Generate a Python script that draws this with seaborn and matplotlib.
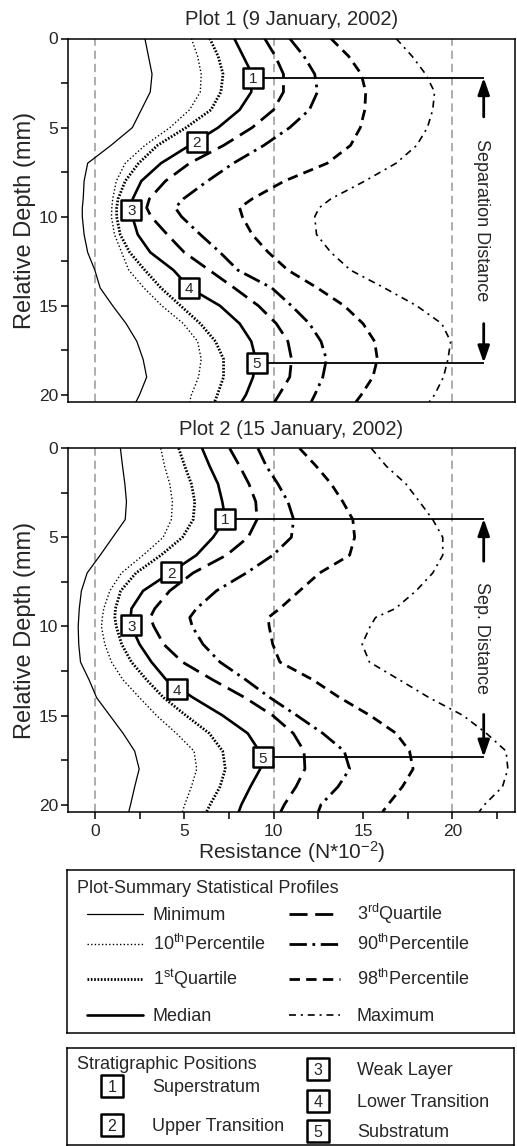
import numpy as np
import pandas as pd
import matplotlib
matplotlib.use('Agg')
import matplotlib.pyplot as plt
from matplotlib.ticker import MultipleLocator
import seaborn as sns

# depth grid (mm) shared by all profiles
depth = [0, 1, 2, 3, 4, 5, 6, 7, 8, 9, 9.5, 10, 11, 12, 13, 14, 15, 16, 17, 18, 19, 20, 20.4]

# Plot 1 (9 January 2002) - resistance (N*10^-2)
p1_min = [2.8, 3.0, 3.2, 3.1, 2.6, 2.1, 0.9, -0.4, -0.6, -0.65, -0.7, -0.7, -0.6, -0.4, 0.0, 0.3, 1.0, 1.75, 2.35, 2.7, 2.9, 2.5, 2.3]
p1_p10 = [5.4, 5.75, 5.95, 5.9, 5.3, 4.2, 2.8, 1.7, 1.2, 1.0, 0.95, 0.93, 1.1, 1.5, 1.9, 2.75, 3.75, 4.95, 5.75, 5.95, 5.8, 5.4, 5.3]
p1_q1 = [6.43, 6.9, 7.17, 7.05, 6.5, 5.1, 3.5, 2.45, 1.7, 1.3, 1.22, 1.22, 1.42, 1.95, 2.8, 3.7, 4.8, 5.9, 6.75, 7.2, 7.2, 6.85, 6.7]
p1_med = [7.8, 8.3, 8.8, 8.75, 8.1, 6.9, 5.3, 3.7, 2.6, 2.12, 2.05, 2.1, 2.4, 3.1, 4.4, 5.3, 7.0, 8.1, 8.75, 9.0, 8.85, 8.45, 8.2]
p1_q3 = [9.5, 10.1, 10.55, 10.55, 10.0, 8.8, 7.2, 5.3, 3.95, 3.05, 2.9, 3.15, 4.05, 5.0, 6.4, 7.8, 9.15, 10.15, 10.8, 11.0, 10.9, 10.3, 10.05]
p1_p90 = [10.9, 11.7, 12.3, 12.45, 12.0, 10.9, 9.45, 7.75, 6.3, 4.95, 4.5, 4.85, 5.9, 7.0, 8.0, 9.9, 11.0, 12.0, 12.65, 12.95, 12.75, 12.3, 12.1]
p1_p98 = [13.2, 14.2, 14.9, 15.15, 15.1, 14.85, 14.3, 13.0, 10.6, 8.8, 8.1, 8.25, 8.8, 9.7, 10.8, 12.45, 13.95, 15.0, 15.65, 15.8, 15.55, 14.9, 14.6]
p1_max = [16.85, 17.75, 18.5, 19.0, 18.9, 18.6, 18.0, 16.85, 15.1, 13.2, 12.55, 12.3, 12.4, 13.2, 14.3, 16.2, 18.0, 19.4, 19.9, 19.75, 19.5, 19.0, 18.7]

# Plot 2 (15 January 2002)
p2_min = [1.43, 1.55, 1.68, 1.77, 1.7, 1.0, 0.3, -0.43, -0.75, -0.87, -0.9, -0.93, -0.9, -0.8, -0.32, 0.1, 0.84, 1.58, 2.23, 2.48, 2.23, 2.0, 1.9]
p2_p10 = [3.69, 3.9, 4.19, 4.34, 4.28, 3.82, 2.7, 1.49, 0.84, 0.5, 0.42, 0.37, 0.56, 0.93, 1.58, 2.5, 3.45, 4.56, 5.55, 5.7, 5.4, 5.03, 4.9]
p2_q1 = [4.69, 5.03, 5.4, 5.59, 5.5, 4.9, 3.7, 2.3, 1.45, 1.15, 1.12, 1.2, 1.5, 2.05, 2.9, 3.85, 5.1, 6.4, 7.15, 7.3, 7.0, 6.45, 6.25]
p2_med = [6.0, 6.42, 6.89, 7.13, 7.3, 6.61, 5.68, 4.2, 2.7, 2.05, 2.0, 2.05, 2.5, 3.17, 4.0, 5.5, 7.15, 8.55, 9.2, 9.25, 8.7, 8.2, 8.05]
p2_q3 = [7.54, 8.1, 8.62, 9.0, 9.07, 8.57, 7.36, 5.49, 4.19, 3.35, 3.1, 3.3, 3.85, 4.9, 6.6, 8.4, 9.95, 11.1, 11.7, 11.75, 11.25, 10.6, 10.4]
p2_p90 = [9.12, 9.59, 10.24, 10.8, 11.12, 10.99, 9.96, 8.47, 6.8, 5.68, 5.31, 5.45, 6.05, 7.0, 8.45, 9.8, 11.3, 12.75, 13.95, 14.25, 13.6, 12.65, 12.5]
p2_p98 = [11.45, 12.38, 13.22, 13.87, 14.43, 14.53, 14.25, 12.57, 11.45, 10.34, 9.7, 9.75, 9.95, 10.35, 12.2, 13.7, 15.4, 16.85, 17.6, 17.8, 17.2, 16.4, 16.1]
p2_max = [15.46, 16.3, 17.4, 18.16, 18.9, 19.46, 19.46, 18.9, 17.97, 16.8, 15.7, 15.4, 14.95, 15.36, 17.04, 18.7, 20.6, 21.9, 23.0, 23.1, 22.8, 21.8, 21.5]

# stratigraphic positions (on the median profile)
pos_labels = ['1', '2', '3', '4', '5']
p1_pos_x = [8.85, 5.7, 2.05, 5.25, 9.05]
p1_pos_d = [2.2, 5.8, 9.6, 14.0, 18.2]
p2_pos_x = [7.3, 4.28, 2.05, 4.6, 9.4]
p2_pos_d = [3.95, 6.95, 9.93, 13.52, 17.33]

titles = ['Plot 1 (9 January, 2002)', 'Plot 2 (15 January, 2002)']
sep_labels = ['Separation Distance', 'Sep. Distance']
arrow_x = 21.75

profiles = ['Minimum', '10th', '1stQ', 'Median', '3rdQ', '90th', '98th', 'Maximum']
legend_labels = ['Minimum', '10$^{th}$Percentile', '1$^{st}$Quartile', 'Median',
                 '3$^{rd}$Quartile', '90$^{th}$Percentile', '98$^{th}$Percentile', 'Maximum']
styles = {
    'Minimum': dict(lw=0.9, ls='-'),
    '10th': dict(lw=1.0, ls=(0, (1, 1.6))),
    '1stQ': dict(lw=2.0, ls=(0, (1.2, 1.2))),
    'Median': dict(lw=1.9, ls='-'),
    '3rdQ': dict(lw=2.0, ls=(0, (13, 5.5))),
    '90th': dict(lw=2.0, ls=(0, (12.5, 4, 2, 4))),
    '98th': dict(lw=2.0, ls=(0, (7.5, 4.5))),
    'Maximum': dict(lw=1.2, ls=(0, (5, 3.5, 1.5, 3.5))),
}

plots = {
    1: [p1_min, p1_p10, p1_q1, p1_med, p1_q3, p1_p90, p1_p98, p1_max],
    2: [p2_min, p2_p10, p2_q1, p2_med, p2_q3, p2_p90, p2_p98, p2_max],
}
rows = []
for plot_no, series in plots.items():
    for name, vals in zip(profiles, series):
        for d, v in zip(depth, vals):
            rows.append((plot_no, name, d, v))
df = pd.DataFrame(rows, columns=['plot', 'profile', 'depth', 'resistance'])

sns.set_style('ticks')
plt.rcParams['font.family'] = ['Liberation Sans', 'DejaVu Sans']
plt.rcParams['mathtext.fontset'] = 'custom'
plt.rcParams['mathtext.rm'] = 'Liberation Sans'
plt.rcParams['mathtext.default'] = 'regular'
plt.rcParams['lines.scale_dashes'] = False
plt.rcParams['axes.edgecolor'] = 'black'
plt.rcParams['axes.linewidth'] = 1.1

fig = plt.figure(figsize=(5.17, 11.46), dpi=100)
W, H = 517, 1146
ax1 = fig.add_axes([68 / W, 1 - 402 / H, 447 / W, 363.5 / H])
ax2 = fig.add_axes([68 / W, 1 - 811.7 / H, 447 / W, 363.4 / H])

pos = {1: (p1_pos_x, p1_pos_d), 2: (p2_pos_x, p2_pos_d)}

for i, ax in enumerate([ax1, ax2]):
    plot_no = i + 1
    for xv in [0, 10, 20]:
        ax.axvline(xv, color='#a0a0a0', lw=1.2, ls=(0, (6, 3.5)), zorder=0)
    for name in profiles:
        sub = df[(df['plot'] == plot_no) & (df['profile'] == name)]
        sns.lineplot(data=sub, x='resistance', y='depth', ax=ax, sort=False,
                     estimator=None, color='black', linewidth=styles[name]['lw'],
                     linestyle=styles[name]['ls'], legend=False, zorder=2)

    px, pd_ = pos[plot_no]
    # separation lines from position 1 and 5 to the arrow
    ax.hlines([pd_[0], pd_[4]], [px[0], px[4]], arrow_x, color='black', lw=1.3, zorder=3)
    mid = (pd_[0] + pd_[4]) / 2
    gap = 5.8 if plot_no == 1 else 4.3
    ax.annotate('', xy=(arrow_x, pd_[0]), xytext=(arrow_x, mid - gap),
                arrowprops=dict(arrowstyle='-|>,head_length=1.0,head_width=0.35',
                                lw=2, color='black', shrinkA=0, shrinkB=0,
                                mutation_scale=10))
    ax.annotate('', xy=(arrow_x, pd_[4]), xytext=(arrow_x, mid + gap),
                arrowprops=dict(arrowstyle='-|>,head_length=1.0,head_width=0.35',
                                lw=2, color='black', shrinkA=0, shrinkB=0,
                                mutation_scale=10))
    ax.text(arrow_x - 0.1, mid, sep_labels[i], rotation=-90, ha='center', va='center',
            fontsize=13)

    sns.scatterplot(x=px, y=pd_, ax=ax, marker='s', s=200, color='white',
                    edgecolor='black', linewidth=1.8, zorder=5, legend=False)
    for lab, xv, dv in zip(pos_labels, px, pd_):
        ax.text(xv, dv, lab, ha='center', va='center_baseline', fontsize=11, zorder=6)

    ax.set_xlim(-1.5, 23.5)
    ax.set_ylim(20.4, 0)
    ax.yaxis.set_major_locator(MultipleLocator(5))
    ax.yaxis.set_minor_locator(MultipleLocator(2.5))
    ax.xaxis.set_major_locator(MultipleLocator(5))
    ax.xaxis.set_minor_locator(MultipleLocator(2.5))
    ax.tick_params(axis='both', which='both', length=5, width=1.1, direction='out',
                   labelsize=12.5, pad=2, color='black')
    ax.set_ylabel('Relative Depth (mm)', fontsize=17, labelpad=2)
    ax.set_xlabel('')
    ax.set_title(titles[i], fontsize=14.5, pad=10 if plot_no == 1 else 9.5)
    for sp in ax.spines.values():
        sp.set_visible(True)
        sp.set_linewidth(1.1)

ax1.tick_params(axis='x', which='both', bottom=False, labelbottom=False)
ax2.tick_params(axis='x', which='major', pad=4)
ax2.set_xlabel('Resistance (N*10$^{-2}$)', fontsize=15, labelpad=0)

# legend 1: statistical profiles (pixel-like coordinates inside the box)
leg1 = fig.add_axes([67 / W, 1 - 1033 / H, 447 / W, 163 / H])
leg1.set_xlim(0, 447)
leg1.set_ylim(163, 0)
leg1.set_xticks([])
leg1.set_yticks([])
for sp in leg1.spines.values():
    sp.set_visible(True)
    sp.set_linewidth(1.1)
leg1.text(10, 17 + 6.3, 'Plot-Summary Statistical Profiles', fontsize=13, va='baseline')
row_y = [44, 74, 109, 145]
for k, (name, lab) in enumerate(zip(profiles, legend_labels)):
    col = k // 4
    y = row_y[k % 4]
    x0, x1, xt = (20, 76, 86) if col == 0 else (222, 273, 290)
    leg1.plot([x0, x1], [y, y], color='black', lw=styles[name]['lw'], ls=styles[name]['ls'])
    leg1.text(xt, y + 6.3, lab, fontsize=13, va='baseline')

# legend 2: stratigraphic positions
strat_names = ['Superstratum', 'Upper Transition', 'Weak Layer', 'Lower Transition', 'Substratum']
leg2 = fig.add_axes([67 / W, 1 - 1145 / H, 447 / W, 97 / H])
leg2.set_xlim(0, 447)
leg2.set_ylim(97, 0)
leg2.set_xticks([])
leg2.set_yticks([])
for sp in leg2.spines.values():
    sp.set_visible(True)
    sp.set_linewidth(1.1)
leg2.text(10, 15 + 6.3, 'Stratigraphic Positions', fontsize=13, va='baseline')
box_xy = [(45, 38), (45, 77), (251, 21), (251, 53), (251, 83)]
label_x = [85, 85, 290, 290, 290]
for lab, name, (bx, by), lx in zip(pos_labels, strat_names, box_xy, label_x):
    leg2.scatter([bx], [by], marker='s', s=250, color='white', edgecolor='black',
                 linewidth=1.8, zorder=3)
    leg2.text(bx, by, lab, ha='center', va='center_baseline', fontsize=11.5, zorder=4)
    leg2.text(lx, by + 6.3, name, fontsize=13, va='baseline')

fig.savefig('out.png', dpi=100)
